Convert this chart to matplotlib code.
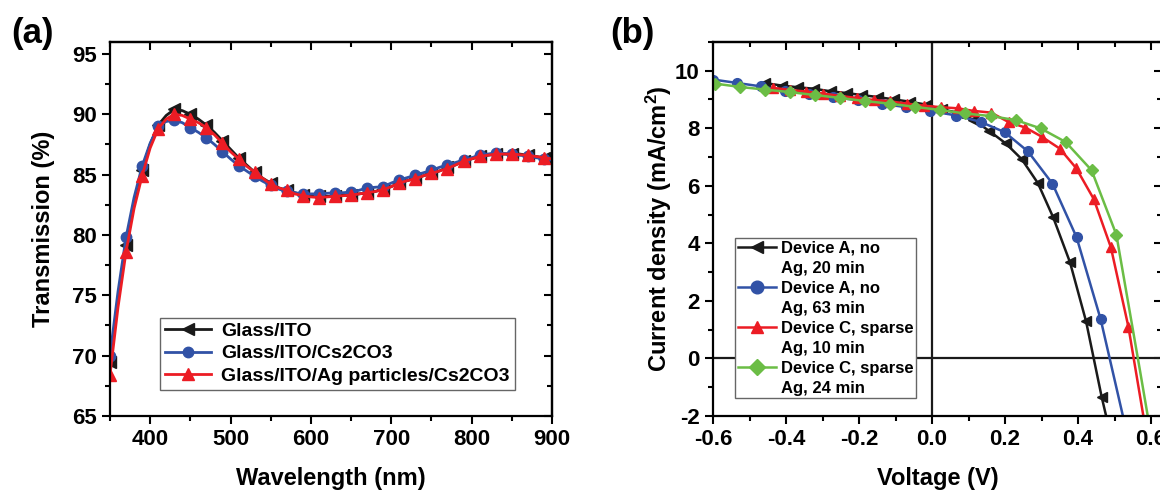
import numpy as np
import matplotlib
matplotlib.use("Agg")
import matplotlib.pyplot as plt
from matplotlib.lines import Line2D
from matplotlib.ticker import MultipleLocator

plt.rcParams['font.family'] = ['Liberation Sans', 'DejaVu Sans']
plt.rcParams['font.weight'] = 'bold'
plt.rcParams['axes.labelweight'] = 'bold'
plt.rcParams['mathtext.fontset'] = 'custom'
plt.rcParams['mathtext.rm'] = 'Liberation Sans:bold'
plt.rcParams['mathtext.default'] = 'rm'

# (a) transmission spectra, 10 nm steps
wl = np.arange(350, 901, 10)
t_ito = [69.5, 74.5, 79.2, 82.8, 85.4, 87.5, 89.1, 89.9, 90.4, 90.3, 90.0, 89.6, 89.1, 88.5,
         87.8, 87.1, 86.4, 85.8, 85.2, 84.7, 84.3, 83.9, 83.7, 83.5, 83.3, 83.2, 83.2, 83.2,
         83.2, 83.3, 83.3, 83.4, 83.5, 83.6, 83.8, 84.0, 84.3, 84.5, 84.7, 84.9, 85.1, 85.3,
         85.6, 85.8, 86.1, 86.3, 86.5, 86.6, 86.7, 86.7, 86.7, 86.7, 86.6, 86.5, 86.4, 86.3]
t_cs = [70.0, 75.3, 79.8, 83.1, 85.7, 87.6, 89.0, 89.4, 89.5, 89.3, 88.9, 88.5, 88.05, 87.5,
        86.9, 86.3, 85.75, 85.3, 84.85, 84.45, 84.1, 83.8, 83.6, 83.5, 83.4, 83.4, 83.4, 83.45,
        83.5, 83.5, 83.55, 83.7, 83.9, 83.95, 84.0, 84.3, 84.55, 84.75, 84.95, 85.15, 85.35, 85.6,
        85.8, 86.0, 86.2, 86.4, 86.6, 86.7, 86.8, 86.75, 86.7, 86.6, 86.55, 86.4, 86.3, 86.2]
t_ag = [68.4, 74.0, 78.6, 82.2, 84.9, 87.2, 88.8, 89.6, 90.0, 89.9, 89.6, 89.3, 88.9, 88.3,
        87.6, 86.9, 86.3, 85.7, 85.2, 84.7, 84.2, 83.9, 83.7, 83.4, 83.25, 83.15, 83.1, 83.15,
        83.2, 83.25, 83.3, 83.4, 83.5, 83.6, 83.75, 84.0, 84.3, 84.5, 84.65, 84.9, 85.1, 85.3,
        85.5, 85.8, 86.1, 86.3, 86.5, 86.6, 86.7, 86.7, 86.7, 86.65, 86.6, 86.5, 86.4, 86.3]

# (b) J-V curves
v_a20 = [-0.459, -0.412, -0.367, -0.323, -0.278, -0.234, -0.192, -0.148, -0.105, -0.061, -0.017,
         0.028, 0.070, 0.112, 0.157, 0.202, 0.246, 0.290, 0.332, 0.378, 0.422, 0.465, 0.477]
j_a20 = [9.57, 9.48, 9.42, 9.37, 9.28, 9.22, 9.15, 9.08, 9.00, 8.92, 8.82,
         8.65, 8.54, 8.30, 7.90, 7.47, 6.92, 6.09, 4.90, 3.34, 1.29, -1.35, -2.0]
v_a63 = [-0.600, -0.534, -0.468, -0.402, -0.336, -0.270, -0.204, -0.138, -0.072, -0.006,
         0.067, 0.133, 0.199, 0.263, 0.330, 0.396, 0.462, 0.523]
j_a63 = [9.69, 9.57, 9.45, 9.30, 9.20, 9.08, 8.97, 8.85, 8.73, 8.60,
         8.44, 8.22, 7.86, 7.19, 6.07, 4.21, 1.36, -2.0]
v_c10 = [-0.436, -0.390, -0.344, -0.298, -0.252, -0.206, -0.160, -0.114, -0.068, -0.022,
         0.024, 0.070, 0.114, 0.162, 0.210, 0.256, 0.301, 0.350, 0.395, 0.443, 0.490, 0.538, 0.579]
j_c10 = [9.40, 9.33, 9.27, 9.20, 9.12, 9.05, 8.98, 8.93, 8.85, 8.78,
         8.73, 8.69, 8.60, 8.54, 8.21, 8.02, 7.70, 7.29, 6.61, 5.54, 3.86, 1.10, -2.0]
v_c24 = [-0.595, -0.525, -0.457, -0.388, -0.320, -0.252, -0.183, -0.115, -0.047, 0.023,
         0.091, 0.161, 0.230, 0.298, 0.366, 0.437, 0.505, 0.570, 0.591]
j_c24 = [9.55, 9.43, 9.34, 9.25, 9.15, 9.05, 8.94, 8.85, 8.74, 8.63,
         8.51, 8.42, 8.28, 7.99, 7.52, 6.54, 4.30, -0.44, -2.0]
labels_b = [('Device A, no', 'Ag, 20 min'), ('Device A, no', 'Ag, 63 min'),
            ('Device C, sparse', 'Ag, 10 min'), ('Device C, sparse', 'Ag, 24 min')]

fig = plt.figure(figsize=(11.6, 4.92), dpi=100)


def style_axes(ax, xmaj, xmin, ymaj, ymin):
    for s in ax.spines.values():
        s.set_linewidth(1.6)
    ax.xaxis.set_major_locator(MultipleLocator(xmaj))
    ax.xaxis.set_minor_locator(MultipleLocator(xmin))
    ax.yaxis.set_major_locator(MultipleLocator(ymaj))
    ax.yaxis.set_minor_locator(MultipleLocator(ymin))
    ax.tick_params(which='both', direction='out', width=1.5, labelsize=16)
    ax.tick_params(which='major', length=6)
    ax.tick_params(which='minor', length=3.5)
    # mirrored ticks on top / right point inwards
    top = ax.secondary_xaxis('top')
    top.xaxis.set_major_locator(MultipleLocator(xmaj))
    top.xaxis.set_minor_locator(MultipleLocator(xmin))
    right = ax.secondary_yaxis('right')
    right.yaxis.set_major_locator(MultipleLocator(ymaj))
    right.yaxis.set_minor_locator(MultipleLocator(ymin))
    for sec in (top, right):
        sec.tick_params(which='both', direction='in', width=1.5, labeltop=False, labelright=False)
        sec.tick_params(which='major', length=6)
        sec.tick_params(which='minor', length=3.5)
        for s in sec.spines.values():
            s.set_linewidth(1.6)


# ---- panel (a)
ax1 = fig.add_axes([0.0948, 0.1545, 0.381, 0.7605])
ax1.plot(wl, t_ito, color='#1a1a1a', lw=2, marker='<', ms=8, markevery=(0, 2), label='Glass/ITO')
ax1.plot(wl, t_cs, color='#3152a6', lw=2, marker='o', ms=7.5, markevery=(0, 2), label='Glass/ITO/Cs2CO3')
ax1.plot(wl, t_ag, color='#ec1c24', lw=2, marker='^', ms=8, markevery=(0, 2),
         label='Glass/ITO/Ag particles/Cs2CO3')
ax1.set_xlim(350, 900)
ax1.set_ylim(65, 96)
style_axes(ax1, 100, 50, 5, 2.5)
ax1.set_xlabel('Wavelength (nm)', fontsize=17, labelpad=12)
ax1.set_ylabel('Transmission (%)', fontsize=17, labelpad=12)
leg = ax1.legend(loc='lower left', bbox_to_anchor=(0.113, 0.07), fontsize=14, handlelength=2.4,
                 fancybox=False, edgecolor='#666666', framealpha=1, borderpad=0.25,
                 labelspacing=0.25, handletextpad=0.5, borderaxespad=0)
leg.get_frame().set_linewidth(1.0)

# ---- panel (b)
ax2 = fig.add_axes([0.6147, 0.1545, 0.387, 0.7605])
ax2.axvline(0, color='#1a1a1a', lw=1.6)
ax2.axhline(0, color='#1a1a1a', lw=1.6)
l1, = ax2.plot(v_a20, j_a20, color='#1a1a1a', lw=1.8, marker='<', ms=7,
               markevery=list(range(len(v_a20) - 1)))
l2, = ax2.plot(v_a63, j_a63, color='#3152a6', lw=1.8, marker='o', ms=7,
               markevery=list(range(len(v_a63) - 1)))
l3, = ax2.plot(v_c10, j_c10, color='#ec1c24', lw=1.8, marker='^', ms=7,
               markevery=list(range(len(v_c10) - 1)))
l4, = ax2.plot(v_c24, j_c24, color='#6bbd45', lw=1.8, marker='D', ms=6.5,
               markevery=list(range(len(v_c24) - 2)))
ax2.set_xlim(-0.6, 0.63)
ax2.set_ylim(-2, 11)
style_axes(ax2, 0.2, 0.1, 2, 1)
ax2.set_xticks([-0.6, -0.4, -0.2, 0.0, 0.2, 0.4, 0.6])
ax2.set_xticklabels(['-0.6', '-0.4', '-0.2', '0.0', '0.2', '0.4', '0.6'])
ax2.set_yticks([-2, 0, 2, 4, 6, 8, 10])
ax2.set_yticklabels(['-2', '0', '2', '4', '6', '8', '10'])
ax2.set_xlabel('Voltage (V)', fontsize=17, labelpad=12)
ax2.set_ylabel('Current density (mA/cm$^{2}$)', fontsize=17, labelpad=1)

handles, texts = [], []
for ln, (first, second) in zip([l1, l2, l3, l4], labels_b):
    handles += [ln, Line2D([], [], linestyle='none')]
    texts += [first, second]
leg2 = ax2.legend(handles, texts, loc='lower left', bbox_to_anchor=(0.05, 0.048), fontsize=12,
                  handlelength=2.3, fancybox=False, edgecolor='#666666', framealpha=1,
                  borderpad=0.15, labelspacing=0.3, handletextpad=0.3, borderaxespad=0,
                  markerscale=1.3)
leg2.get_frame().set_linewidth(1.0)

fig.text(0.010, 0.913, '(a)', fontsize=25, fontweight='bold')
fig.text(0.526, 0.913, '(b)', fontsize=25, fontweight='bold')

fig.savefig('out.png', dpi=100)
